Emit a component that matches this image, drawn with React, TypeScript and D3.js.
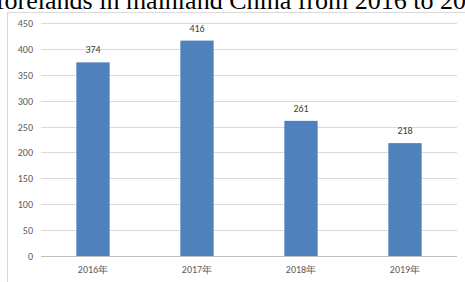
import React from "react";
import * as d3 from "d3";

const years = ["2016年", "2017年", "2018年", "2019年"];
const counts = [374, 416, 261, 218];
const yTicks = [0, 50, 100, 150, 200, 250, 300, 350, 400, 450];
const title = "Changes of forelands in mainland China from 2016 to 2019";

export default function App() {
  const width = 465;
  const height = 282;
  const margin = { top: 23, right: 8, bottom: 26, left: 41 };
  const plotW = width - margin.left - margin.right;
  const plotH = 256 - margin.top;

  const x = d3.scaleBand().domain(years).range([0, plotW]).paddingInner(0.68).paddingOuter(0.34);
  const y = d3.scaleLinear().domain([0, 450]).range([plotH, 0]);

  const labelFont = "Carlito, 'Liberation Sans', Arial, sans-serif";

  return (
    <svg
      width={width}
      height={height}
      style={{ position: "absolute", left: 0, top: 0, background: "#fff" }}
    >
      {/* title sits above the crop, only its lower part shows */}
      <text
        x={492}
        y={9}
        textAnchor="end"
        fontFamily="'Liberation Serif', 'Times New Roman', serif"
        fontSize={26}
        fill="#000"
      >
        {title}
      </text>
      <rect x={7.5} y={12.5} width={470} height={290} fill="#fff" stroke="#d9d9d9" />
      <g transform={`translate(${margin.left},${margin.top})`}>
        {yTicks.map((t) => (
          <g key={t} transform={`translate(0,${Math.round(y(t)) + 0.5})`}>
            <line x1={0} x2={plotW} stroke={t === 0 ? "#bfbfbf" : "#d9d9d9"} strokeWidth={1} />
            <text x={-8} dy="0.35em" textAnchor="end" fontSize={10} fontFamily={labelFont} fill="#595959">
              {t}
            </text>
          </g>
        ))}
        {years.map((yr, i) => (
          <g key={yr}>
            <rect
              x={x(yr)}
              y={y(counts[i])}
              width={x.bandwidth()}
              height={plotH - y(counts[i])}
              fill="#4f81bd"
            />
            <text
              x={(x(yr) as number) + x.bandwidth() / 2}
              y={y(counts[i]) - 9}
              textAnchor="middle"
              fontSize={10}
              fontFamily={labelFont}
              fill="#404040"
            >
              {counts[i]}
            </text>
            <text
              x={(x(yr) as number) + x.bandwidth() / 2}
              y={plotH + 17}
              textAnchor="middle"
              fontSize={10}
              fontFamily={labelFont}
              fill="#595959"
            >
              {yr}
            </text>
          </g>
        ))}
      </g>
    </svg>
  );
}
